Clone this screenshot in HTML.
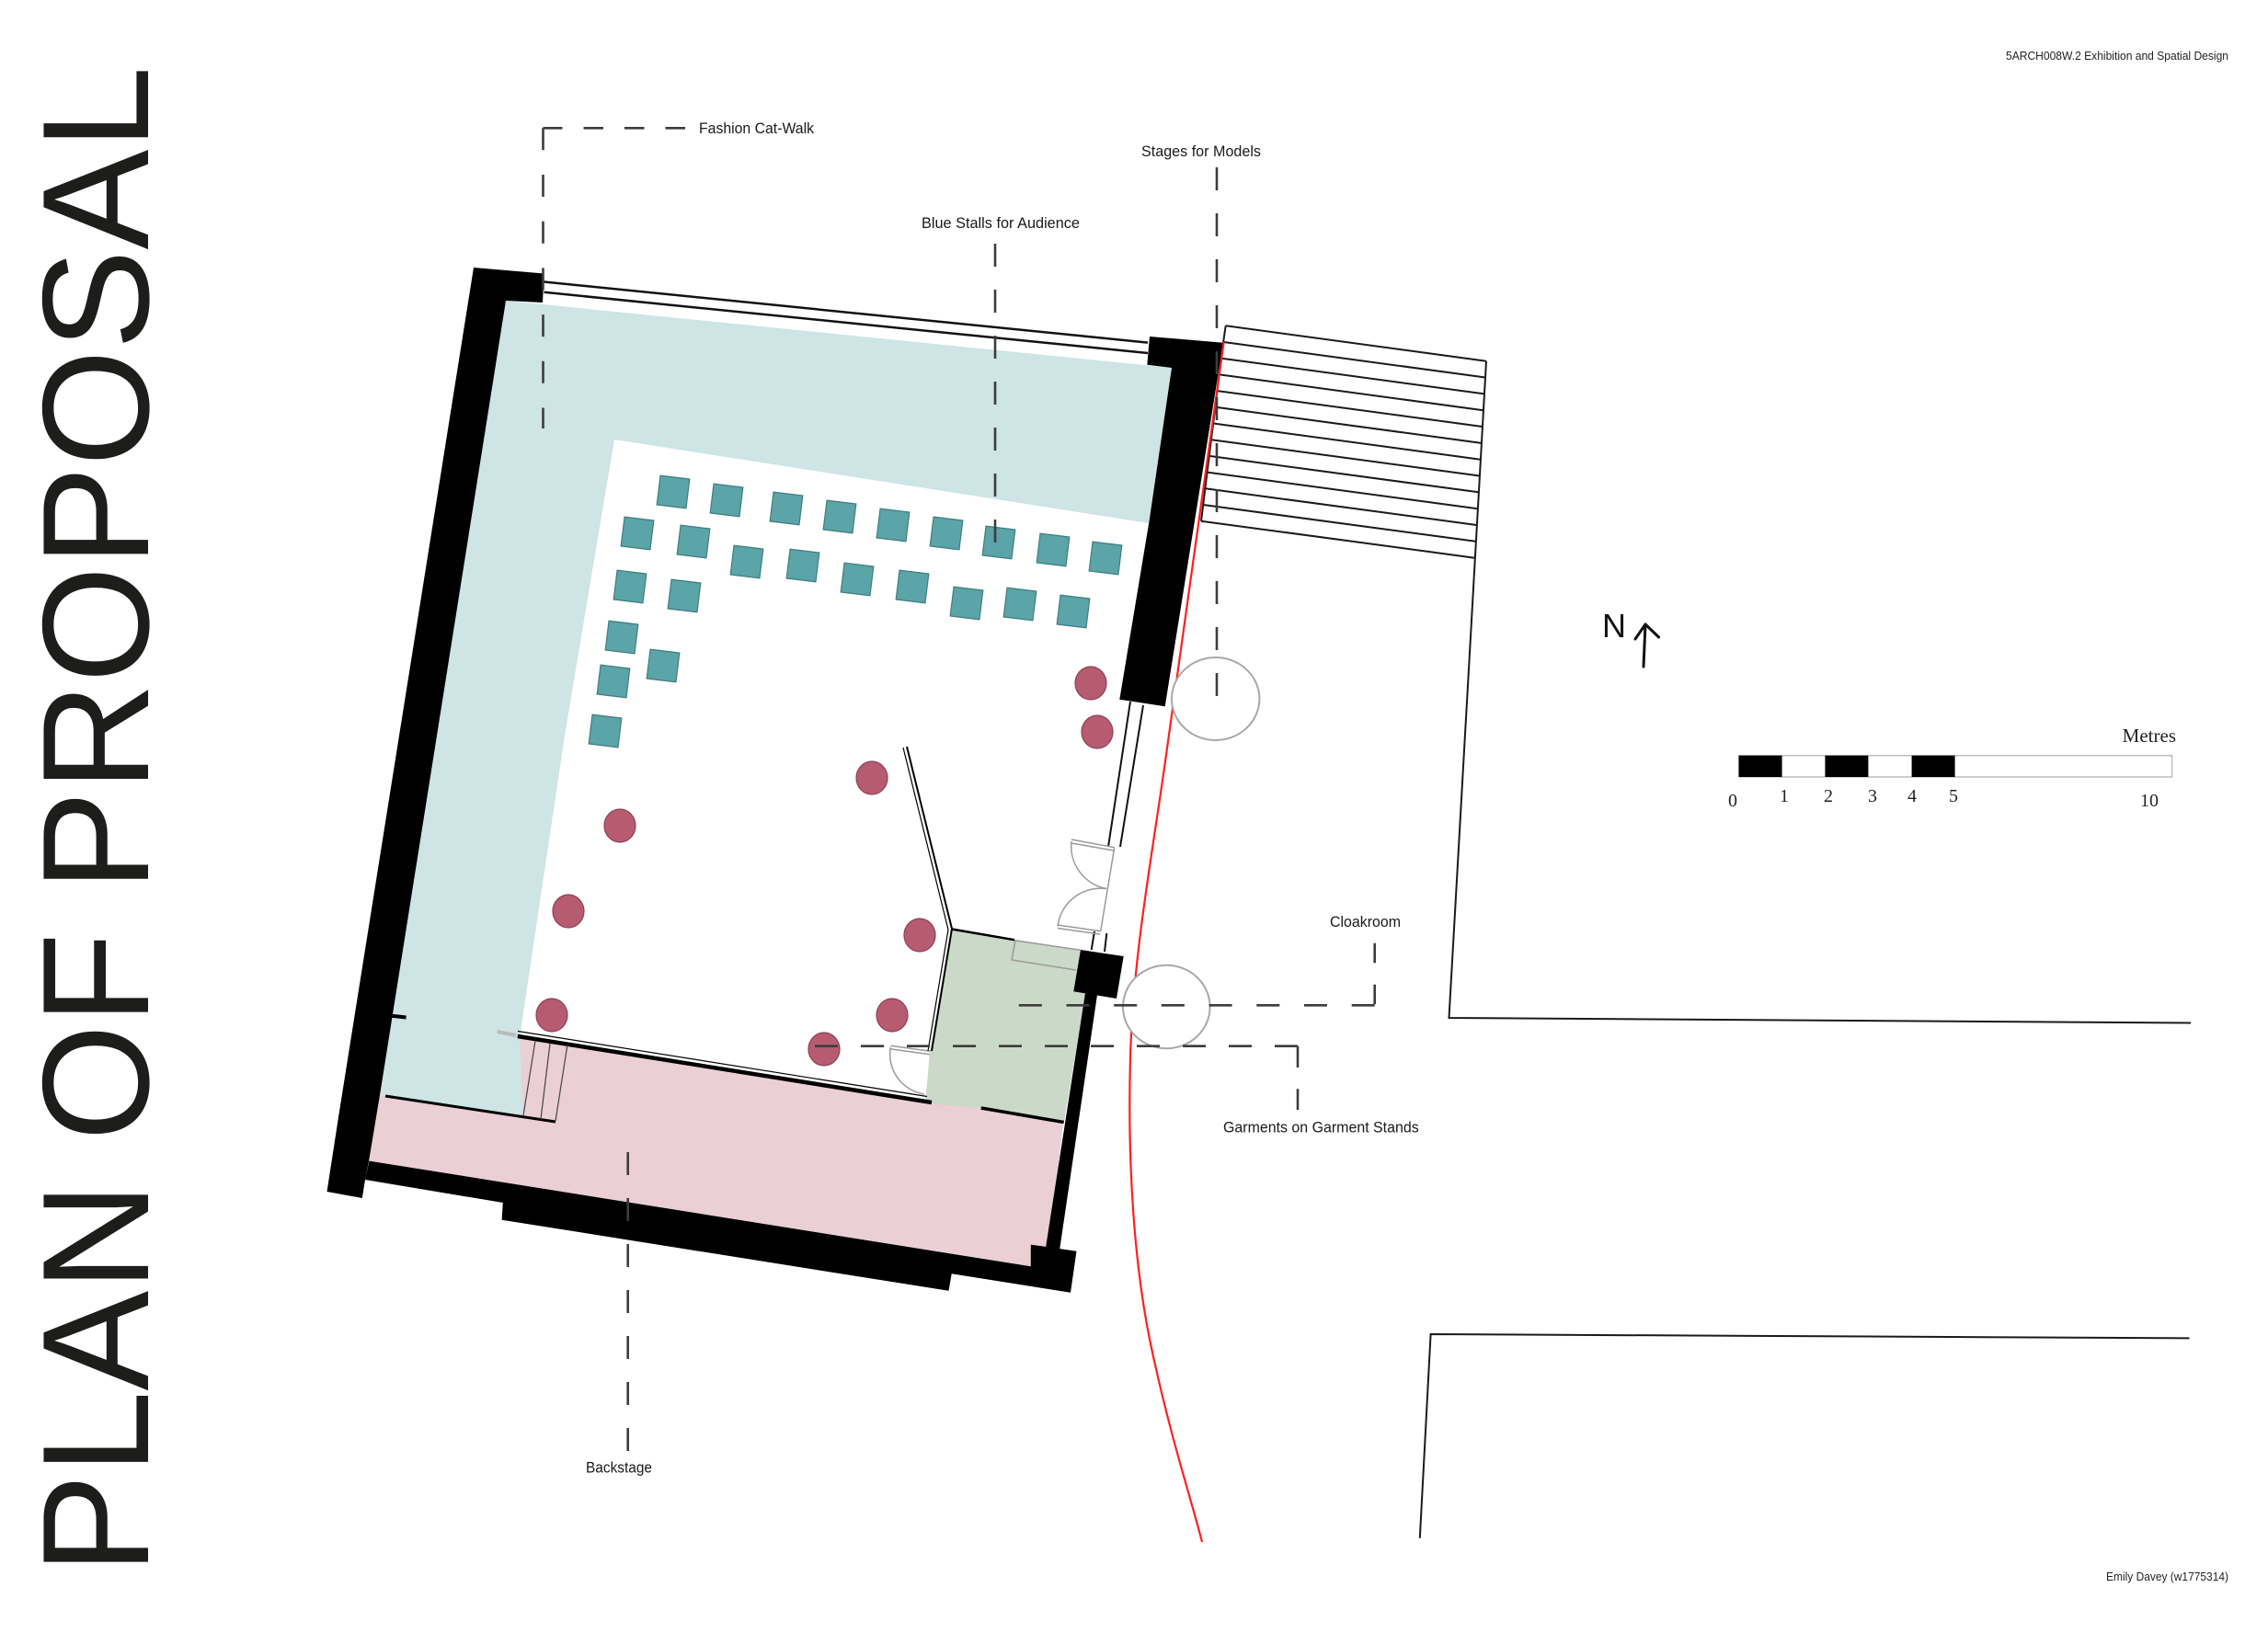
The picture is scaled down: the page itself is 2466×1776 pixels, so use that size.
<!DOCTYPE html>
<html><head><meta charset="utf-8"><style>
html,body{margin:0;padding:0;background:#fff;}
svg{display:block;}
</style></head><body>
<svg xmlns="http://www.w3.org/2000/svg" width="2466" height="1776" viewBox="0 0 2466 1776">
<rect width="2466" height="1776" fill="#fff"/>

<!-- Title -->
<text transform="translate(161,1712) rotate(-90)" x="0" y="0" font-family="'Liberation Sans',Arial,sans-serif" font-size="165" fill="#1d1d1b" textLength="1640" lengthAdjust="spacingAndGlyphs">PLAN OF PROPOSAL</text>

<!-- Fills -->
<polygon points="550,327 1274,400 1249,569 668,478 614,800 566,1122 569,1213 413,1191 430,1000" fill="#cee4e5"/>
<polygon points="413,1191 569,1213 565,1125 1012,1197 1066,1205 1156,1221 1140,1360 1121,1377 401,1263" fill="#eacfd5"/>
<polygon points="1035,1011 1175,1033 1180,1082 1157,1220 1066,1205 1006,1200 1011,1144" fill="#cbd9c8"/>

<!-- Seats -->
<g fill="#5ba4a8" stroke="#3f7d80" stroke-width="1.2">
<rect x="-16" y="-16" width="32" height="32" transform="translate(732,535) rotate(7)"/>
<rect x="-16" y="-16" width="32" height="32" transform="translate(790,544) rotate(7)"/>
<rect x="-16" y="-16" width="32" height="32" transform="translate(855,553) rotate(7)"/>
<rect x="-16" y="-16" width="32" height="32" transform="translate(913,562) rotate(7)"/>
<rect x="-16" y="-16" width="32" height="32" transform="translate(971,571) rotate(7)"/>
<rect x="-16" y="-16" width="32" height="32" transform="translate(1029,580) rotate(7)"/>
<rect x="-16" y="-16" width="32" height="32" transform="translate(1086,590) rotate(7)"/>
<rect x="-16" y="-16" width="32" height="32" transform="translate(1145,598) rotate(7)"/>
<rect x="-16" y="-16" width="32" height="32" transform="translate(1202,607) rotate(7)"/>
<rect x="-16" y="-16" width="32" height="32" transform="translate(693,580) rotate(7)"/>
<rect x="-16" y="-16" width="32" height="32" transform="translate(754,589) rotate(7)"/>
<rect x="-16" y="-16" width="32" height="32" transform="translate(812,611) rotate(7)"/>
<rect x="-16" y="-16" width="32" height="32" transform="translate(873,615) rotate(7)"/>
<rect x="-16" y="-16" width="32" height="32" transform="translate(932,630) rotate(7)"/>
<rect x="-16" y="-16" width="32" height="32" transform="translate(992,638) rotate(7)"/>
<rect x="-16" y="-16" width="32" height="32" transform="translate(1051,656) rotate(7)"/>
<rect x="-16" y="-16" width="32" height="32" transform="translate(1109,657) rotate(7)"/>
<rect x="-16" y="-16" width="32" height="32" transform="translate(1167,665) rotate(7)"/>
<rect x="-16" y="-16" width="32" height="32" transform="translate(685,638) rotate(7)"/>
<rect x="-16" y="-16" width="32" height="32" transform="translate(744,648) rotate(7)"/>
<rect x="-16" y="-16" width="32" height="32" transform="translate(676,693) rotate(7)"/>
<rect x="-16" y="-16" width="32" height="32" transform="translate(721,724) rotate(7)"/>
<rect x="-16" y="-16" width="32" height="32" transform="translate(667,741) rotate(7)"/>
<rect x="-16" y="-16" width="32" height="32" transform="translate(658,795) rotate(7)"/>
</g>

<!-- Garment stands (circles) -->
<g fill="#b65b70" stroke="#8c4256" stroke-width="1.2">
<ellipse cx="1186" cy="743" rx="17" ry="18"/>
<ellipse cx="1193" cy="796" rx="17" ry="18"/>
<ellipse cx="948" cy="846" rx="17" ry="18"/>
<ellipse cx="674" cy="898" rx="17" ry="18"/>
<ellipse cx="618" cy="991" rx="17" ry="18"/>
<ellipse cx="1000" cy="1017" rx="17" ry="18"/>
<ellipse cx="970" cy="1104" rx="17" ry="18"/>
<ellipse cx="600" cy="1104" rx="17" ry="18"/>
<ellipse cx="896" cy="1141" rx="17" ry="18"/>
</g>

<!-- Walls -->
<g fill="#000">
<polygon points="515,291 591.5,297.5 590,329 550,327 413,1191 401,1263 397,1283 393.8,1303 355.5,1296 368,1215"/>
<polygon points="1120.8,1353.6 1170.5,1360.7 1164,1405.8 1034.7,1385.2 1031.5,1403.8 545.6,1326.7 546.8,1308 397,1283 401.4,1262.6 1120.8,1377.3"/>
<polygon points="1250,366 1330,372.7 1266.7,768.3 1217.3,760.7 1249.3,568.3 1274,400 1247.3,396.7"/>
<polygon points="1175,1033 1221.7,1040 1214,1086 1167.3,1078.3"/>
<polygon points="1180,1080 1193,1082 1152,1360 1137,1357"/>
</g>

<!-- Glazing top -->
<g stroke="#111" stroke-width="2.5" fill="none">
<line x1="591.5" y1="306.5" x2="1248" y2="372.6"/>
<line x1="591.5" y1="317.8" x2="1248" y2="384"/>
</g>
<!-- Glazing right -->
<g stroke="#111" stroke-width="2" fill="none">
<line x1="1229" y1="763" x2="1205" y2="921"/>
<line x1="1243" y1="767" x2="1218" y2="921"/>
<line x1="1190" y1="1013" x2="1186.7" y2="1033"/>
<line x1="1203.3" y1="1015" x2="1201" y2="1035"/>
</g>

<!-- Doors -->
<g stroke="#9a9a9a" stroke-width="1.5" fill="none">
<line x1="1165" y1="913" x2="1211.7" y2="921.7"/>
<line x1="1165" y1="917" x2="1211" y2="925"/>
<path d="M1165,915 A47,47 0 0,0 1203,966.5"/>
<line x1="1150" y1="1006" x2="1196.7" y2="1012.7"/>
<line x1="1150" y1="1009.5" x2="1196" y2="1016"/>
<path d="M1150,1007.5 A47,47 0 0,1 1203,966.5"/>
<line x1="1211.7" y1="921.7" x2="1196.7" y2="1012.7"/>
<line x1="968.3" y1="1137.3" x2="1011.7" y2="1143.3"/>
<line x1="968" y1="1140.8" x2="1011" y2="1146.8"/>
<path d="M968.3,1139 A44,44 0 0,0 1005,1190"/>
<line x1="1104" y1="1022.7" x2="1100" y2="1044"/>
<line x1="1100" y1="1044" x2="1170" y2="1055"/>
<line x1="1103" y1="1022.7" x2="1175" y2="1033.3"/>
</g>

<!-- Interior wall lines -->
<g stroke="#000" fill="none">
<line x1="986" y1="812" x2="1035" y2="1010" stroke-width="2"/>
<line x1="982" y1="813" x2="1031" y2="1011" stroke-width="1.2"/>
<line x1="1035" y1="1010" x2="1013" y2="1143" stroke-width="2"/>
<line x1="1031" y1="1011" x2="1009" y2="1143" stroke-width="1.2"/>
<line x1="1035" y1="1010.5" x2="1103" y2="1022.2" stroke-width="2.5"/>
<line x1="562.8" y1="1127" x2="1013" y2="1199" stroke-width="4.5"/>
<line x1="563" y1="1121.5" x2="1008" y2="1192.5" stroke-width="1.2"/>
<line x1="419" y1="1192" x2="604" y2="1220" stroke-width="3"/>
<line x1="1066.7" y1="1205" x2="1156.7" y2="1220.5" stroke-width="3.5"/>
<line x1="424" y1="1104.5" x2="441.6" y2="1106.5" stroke-width="4"/>
</g>
<g stroke="#444" stroke-width="1.2" fill="none">
<line x1="582" y1="1132" x2="569" y2="1213"/>
<line x1="598" y1="1135" x2="588" y2="1217"/>
<line x1="617" y1="1136" x2="604" y2="1219"/>
</g>
<line x1="540.5" y1="1122" x2="561" y2="1126" stroke="#bbb" stroke-width="4"/>

<!-- Stairs -->
<g stroke="#1a1a1a" stroke-width="2" fill="none">
<line x1="1332.7" y1="354.3" x2="1616" y2="392.7"/>
<line x1="1330.5" y1="372" x2="1614.9" y2="410.5"/>
<line x1="1328.3" y1="389.7" x2="1613.9" y2="428.4"/>
<line x1="1326" y1="407.4" x2="1612.8" y2="446.2"/>
<line x1="1323.8" y1="425.1" x2="1611.8" y2="464"/>
<line x1="1321.6" y1="442.8" x2="1610.7" y2="481.9"/>
<line x1="1319.4" y1="460.5" x2="1609.7" y2="499.7"/>
<line x1="1317.1" y1="478.2" x2="1608.6" y2="517.5"/>
<line x1="1314.9" y1="495.9" x2="1607.5" y2="535.3"/>
<line x1="1312.7" y1="513.6" x2="1606.5" y2="553.2"/>
<line x1="1310.5" y1="531.3" x2="1605.4" y2="571"/>
<line x1="1308.2" y1="549" x2="1604.4" y2="588.8"/>
<line x1="1306" y1="566.7" x2="1603.3" y2="606.7"/>
<polyline points="1332.7,354.3 1330,372.7 1306,566.7"/>
<polyline points="1616,392.7 1575.5,1107 2382,1112.5"/>
<polyline points="2380.5,1455.4 1555.6,1451 1543.8,1672.8"/>
</g>

<!-- Red line -->
<path d="M1330.7,371.7 L1266.7,830 C1252,935 1232,1040 1229,1150 C1226,1260 1232,1380 1255,1480 C1275,1570 1295,1630 1307,1677" fill="none" stroke="#ff1f1f" stroke-width="2.2"/>

<!-- Grey circles -->
<ellipse cx="1321.7" cy="760" rx="47.7" ry="45" fill="#fff" stroke="#a8a8a8" stroke-width="2"/>
<ellipse cx="1268.3" cy="1095" rx="47.3" ry="45.3" fill="#fff" stroke="#a8a8a8" stroke-width="2"/>

<!-- Dashed leaders -->
<g stroke="#3c3c3c" stroke-width="2.6" fill="none">
<path d="M745,139.3 H590.5" stroke-dasharray="21.5 23"/>
<path d="M590.5,139.3 V466" stroke-dasharray="24 26.7"/>
<path d="M1082,265 V591" stroke-dasharray="25 25"/>
<path d="M1323,182 V760" stroke-dasharray="25 25"/>
<path d="M1494.7,1025.7 V1093.3" stroke-dasharray="21.6 23.4"/>
<path d="M1494.7,1093.3 H1105" stroke-dasharray="25 26.7"/>
<path d="M1411,1137.7 H886" stroke-dasharray="25 25"/>
<path d="M1411,1137.7 V1207" stroke-dasharray="23.3 23.3"/>
<path d="M682.7,1578 V1252" stroke-dasharray="25 25"/>
</g>

<!-- Labels -->
<g font-family="'Liberation Sans Narrow','Liberation Sans',Arial,sans-serif" font-size="16.5" fill="#1a1a1a">
<text x="760" y="145" textLength="125" lengthAdjust="spacingAndGlyphs">Fashion Cat-Walk</text>
<text x="1241" y="170" textLength="130" lengthAdjust="spacingAndGlyphs">Stages for Models</text>
<text x="1002" y="248" textLength="172" lengthAdjust="spacingAndGlyphs">Blue Stalls for Audience</text>
<text x="1446" y="1008" textLength="77" lengthAdjust="spacingAndGlyphs">Cloakroom</text>
<text x="1330" y="1231.5" textLength="212.7" lengthAdjust="spacingAndGlyphs">Garments on Garment Stands</text>
<text x="637" y="1601.7" textLength="72" lengthAdjust="spacingAndGlyphs">Backstage</text>
</g>
<g font-family="'Liberation Sans',Arial,sans-serif" font-size="12.5" fill="#222">
<text x="2181" y="65" textLength="242" lengthAdjust="spacingAndGlyphs">5ARCH008W.2 Exhibition and Spatial Design</text>
<text x="2290" y="1719" textLength="133" lengthAdjust="spacingAndGlyphs">Emily Davey (w1775314)</text>
</g>

<!-- North arrow -->
<text x="1742" y="693" font-family="'Liberation Sans',Arial,sans-serif" font-size="36" fill="#111">N</text>
<g stroke="#111" stroke-width="3" fill="none" stroke-linecap="round" stroke-linejoin="round">
<path d="M1787,725 L1789,679"/>
<path d="M1778,695 L1789,679 L1803.6,693"/>
</g>

<!-- Scale bar -->
<rect x="1890.6" y="821.7" width="471" height="23.3" fill="#fff" stroke="#bdbdbd" stroke-width="1.5"/>
<g fill="#000">
<rect x="1890.6" y="821.7" width="47" height="23.3"/>
<rect x="1984.4" y="821.7" width="47" height="23.3"/>
<rect x="2078.6" y="821.7" width="47" height="23.3"/>
</g>
<g font-family="'Liberation Serif','Times New Roman',serif" font-size="20" fill="#222" text-anchor="middle">
<text x="1884" y="877">0</text>
<text x="1940" y="872">1</text>
<text x="1988" y="872">2</text>
<text x="2036" y="872">3</text>
<text x="2079" y="872">4</text>
<text x="2124" y="872">5</text>
<text x="2337" y="877">10</text>
</g>
<text x="2366" y="807" font-family="'Liberation Serif','Times New Roman',serif" font-size="21" fill="#222" text-anchor="end">Metres</text>
</svg>
</body></html>
